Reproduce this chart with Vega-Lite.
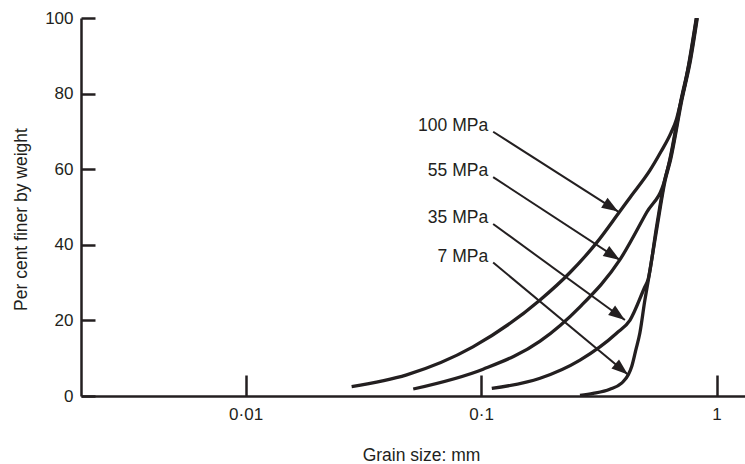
{
  "$schema": "https://vega.github.io/schema/vega-lite/v6.json",
  "width": 664,
  "height": 378,
  "autosize": {"type": "none"},
  "padding": {"left": 81, "top": 18, "right": 0, "bottom": 68},
  "background": "white",
  "config": {
    "view": {"stroke": null},
    "font": "Liberation Sans",
    "axis": {
      "grid": false,
      "domainColor": "#231f20",
      "domainWidth": 2.5,
      "tickColor": "#231f20",
      "tickWidth": 2.5,
      "labelColor": "#231f20",
      "labelFont": "Liberation Sans",
      "labelFontSize": 17,
      "titleColor": "#231f20",
      "titleFont": "Liberation Sans",
      "titleFontSize": 17.5,
      "titleFontWeight": "normal"
    }
  },
  "datasets": {
    "curves": [
      {"p": "100 MPa", "size": 0.0282, "pct": 2.5},
      {"p": "100 MPa", "size": 0.0483, "pct": 5.6},
      {"p": "100 MPa", "size": 0.0923, "pct": 13.0},
      {"p": "100 MPa", "size": 0.178, "pct": 25.4},
      {"p": "100 MPa", "size": 0.238, "pct": 32.6},
      {"p": "100 MPa", "size": 0.309, "pct": 40.5},
      {"p": "100 MPa", "size": 0.388, "pct": 48.8},
      {"p": "100 MPa", "size": 0.43, "pct": 52.6},
      {"p": "100 MPa", "size": 0.52, "pct": 59.6},
      {"p": "100 MPa", "size": 0.58, "pct": 64.6},
      {"p": "100 MPa", "size": 0.64, "pct": 69.6},
      {"p": "100 MPa", "size": 0.676, "pct": 73.3},
      {"p": "100 MPa", "size": 0.703, "pct": 77.5},
      {"p": "100 MPa", "size": 0.737, "pct": 83.0},
      {"p": "100 MPa", "size": 0.767, "pct": 88.9},
      {"p": "100 MPa", "size": 0.82, "pct": 100},
      {"p": "55 MPa", "size": 0.0515, "pct": 1.85},
      {"p": "55 MPa", "size": 0.102, "pct": 7.1},
      {"p": "55 MPa", "size": 0.178, "pct": 14.5},
      {"p": "55 MPa", "size": 0.263, "pct": 23.6},
      {"p": "55 MPa", "size": 0.388, "pct": 36.0},
      {"p": "55 MPa", "size": 0.505, "pct": 48.6},
      {"p": "55 MPa", "size": 0.602, "pct": 57.1},
      {"p": "55 MPa", "size": 0.632, "pct": 62.4},
      {"p": "55 MPa", "size": 0.706, "pct": 78.3},
      {"p": "55 MPa", "size": 0.769, "pct": 88.9},
      {"p": "55 MPa", "size": 0.822, "pct": 100},
      {"p": "35 MPa", "size": 0.111, "pct": 2.0},
      {"p": "35 MPa", "size": 0.178, "pct": 4.7},
      {"p": "35 MPa", "size": 0.263, "pct": 9.5},
      {"p": "35 MPa", "size": 0.376, "pct": 16.6},
      {"p": "35 MPa", "size": 0.429, "pct": 20.1},
      {"p": "35 MPa", "size": 0.496, "pct": 28.9},
      {"p": "35 MPa", "size": 0.511, "pct": 30.7},
      {"p": "35 MPa", "size": 0.556, "pct": 44.8},
      {"p": "35 MPa", "size": 0.602, "pct": 57.1},
      {"p": "35 MPa", "size": 0.634, "pct": 62.4},
      {"p": "35 MPa", "size": 0.709, "pct": 78.3},
      {"p": "35 MPa", "size": 0.772, "pct": 88.9},
      {"p": "35 MPa", "size": 0.825, "pct": 100},
      {"p": "7 MPa", "size": 0.263, "pct": 0.15},
      {"p": "7 MPa", "size": 0.299, "pct": 0.7},
      {"p": "7 MPa", "size": 0.352, "pct": 1.8},
      {"p": "7 MPa", "size": 0.395, "pct": 3.4},
      {"p": "7 MPa", "size": 0.4217, "pct": 5.6},
      {"p": "7 MPa", "size": 0.436, "pct": 7.8},
      {"p": "7 MPa", "size": 0.454, "pct": 12.2},
      {"p": "7 MPa", "size": 0.472, "pct": 16.6},
      {"p": "7 MPa", "size": 0.496, "pct": 25.4},
      {"p": "7 MPa", "size": 0.513, "pct": 30.7},
      {"p": "7 MPa", "size": 0.559, "pct": 44.8},
      {"p": "7 MPa", "size": 0.605, "pct": 57.1},
      {"p": "7 MPa", "size": 0.637, "pct": 62.4},
      {"p": "7 MPa", "size": 0.712, "pct": 78.3},
      {"p": "7 MPa", "size": 0.775, "pct": 88.9},
      {"p": "7 MPa", "size": 0.828, "pct": 100}
    ],
    "arrows": [
      {"label": "100 MPa", "x": 0.1125, "y": 69.9, "x2": 0.382, "y2": 48.8},
      {"label": "55 MPa", "x": 0.1125, "y": 57.9, "x2": 0.388, "y2": 36.0},
      {"label": "35 MPa", "x": 0.1125, "y": 45.5, "x2": 0.408, "y2": 20.1},
      {"label": "7 MPa", "x": 0.1125, "y": 35.3, "x2": 0.42, "y2": 5.7}
    ]
  },
  "layer": [
    {
      "data": {"name": "curves"},
      "mark": {"type": "line", "color": "#231f20", "strokeWidth": 3.3, "interpolate": "monotone", "clip": true},
      "encoding": {
        "x": {
          "field": "size", "type": "quantitative",
          "scale": {"type": "log", "domain": [0.002, 1.32], "nice": false},
          "axis": {
            "values": [0.01, 0.1, 1],
            "labelExpr": "datum.value == 1 ? '1' : (datum.value == 0.1 ? '0·1' : '0·01')",
            "tickSize": -21,
            "labelPadding": 31,
            "title": "Grain size: mm",
            "titlePadding": 24,
            "titleX": 340
          }
        },
        "y": {
          "field": "pct", "type": "quantitative",
          "scale": {"domain": [0, 100], "nice": false},
          "axis": {
            "values": [0, 20, 40, 60, 80, 100],
            "tickSize": -14,
            "labelPadding": 22,
            "title": "Per cent finer by weight",
            "titlePadding": 14,
            "titleY": 201
          }
        },
        "detail": {"field": "p"}
      }
    },
    {
      "mark": {"type": "rule", "color": "#231f20", "strokeWidth": 2.5},
      "encoding": {"y": {"datum": 100, "type": "quantitative"}}
    },
    {
      "data": {"name": "arrows"},
      "mark": {"type": "rule", "color": "#231f20", "strokeWidth": 2},
      "encoding": {
        "x": {"field": "x", "type": "quantitative"},
        "y": {"field": "y", "type": "quantitative"},
        "x2": {"field": "x2"},
        "y2": {"field": "y2"}
      }
    },
    {
      "data": {"name": "arrows"},
      "mark": {"type": "text", "color": "#231f20", "font": "Liberation Sans", "fontSize": 17.5, "align": "right", "baseline": "middle", "dx": -5, "dy": -6},
      "encoding": {
        "x": {"field": "x", "type": "quantitative"},
        "y": {"field": "y", "type": "quantitative"},
        "text": {"field": "label"}
      }
    },
    {
      "data": {"name": "arrows"},
      "transform": [{"filter": "datum.label == '100 MPa'"}],
      "mark": {"type": "point", "shape": "M0,0L-2,-0.72L-2,0.72Z", "filled": true, "color": "#231f20", "opacity": 1, "size": 270, "angle": 32.6},
      "encoding": {"x": {"field": "x2", "type": "quantitative"}, "y": {"field": "y2", "type": "quantitative"}}
    },
    {
      "data": {"name": "arrows"},
      "transform": [{"filter": "datum.label == '55 MPa'"}],
      "mark": {"type": "point", "shape": "M0,0L-2,-0.72L-2,0.72Z", "filled": true, "color": "#231f20", "opacity": 1, "size": 270, "angle": 33.1},
      "encoding": {"x": {"field": "x2", "type": "quantitative"}, "y": {"field": "y2", "type": "quantitative"}}
    },
    {
      "data": {"name": "arrows"},
      "transform": [{"filter": "datum.label == '35 MPa'"}],
      "mark": {"type": "point", "shape": "M0,0L-2,-0.72L-2,0.72Z", "filled": true, "color": "#231f20", "opacity": 1, "size": 270, "angle": 36.1},
      "encoding": {"x": {"field": "x2", "type": "quantitative"}, "y": {"field": "y2", "type": "quantitative"}}
    },
    {
      "data": {"name": "arrows"},
      "transform": [{"filter": "datum.label == '7 MPa'"}],
      "mark": {"type": "point", "shape": "M0,0L-2,-0.72L-2,0.72Z", "filled": true, "color": "#231f20", "opacity": 1, "size": 270, "angle": 39.7},
      "encoding": {"x": {"field": "x2", "type": "quantitative"}, "y": {"field": "y2", "type": "quantitative"}}
    }
  ]
}
